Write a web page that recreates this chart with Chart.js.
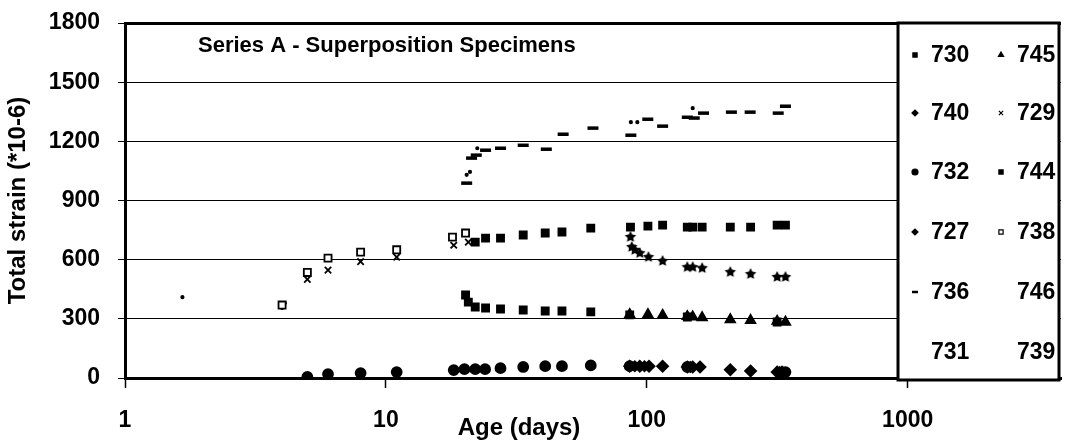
<!DOCTYPE html>
<html>
<head>
<meta charset="utf-8">
<script src="https://cdn.jsdelivr.net/npm/chart.js@4/dist/chart.umd.min.js"></script>
<style>
  html, body { margin: 0; padding: 0; background: #fff; }
  #wrap { width: 1070px; height: 444px; }
</style>
</head>
<body>
<div id="wrap"><canvas id="strainChart"></canvas></div>
<script>
// ---- data ----
const xTicks = [1, 10, 100, 1000];
const yTicks = [0, 300, 600, 900, 1200, 1500, 1800];
const chartTitle = 'Series A - Superposition Specimens';

const seriesNames = ['730', '745', '740', '729', '732', '744', '727', '738', '736', '746', '731', '739'];

const ages730 = [22.0, 24.1, 27.5, 33.6, 40.8, 47.3, 61, 86.6, 101, 115, 143, 150, 163, 209, 250, 316, 340];
const strain730 = [689, 709, 709, 725, 735, 740, 760, 765, 770, 775, 765, 765, 765, 765, 765, 775, 775];

const ages745 = [86, 101, 115, 143, 150, 163, 209, 250, 316, 340];
const strain745 = [322, 322, 318, 312, 310, 306, 296, 292, 288, 284];

const ages740 = [86, 94, 102, 115, 143, 150, 160, 209, 250, 316, 330];
const strain740 = [60, 60, 60, 60, 56, 56, 56, 42, 36, 30, 30];

const ages729 = [5.0, 6.0, 8.0, 11.0, 18.2, 20.7];
const strain729 = [500, 547, 590, 613, 673, 689];

const ages732 = [5.0, 6.0, 8.0, 11.0, 18.2, 20.0, 22.0, 24.0, 27.5, 33.6, 40.8, 47.3, 61, 86, 143, 340];
const strain732 = [5, 20, 25, 30, 40, 45, 45, 45, 50, 56, 60, 60, 64, 60, 56, 30];

const ages744 = [20.2, 20.7, 22.0, 24.1, 27.5, 33.6, 40.8, 47.3, 61, 86, 143, 316];
const strain744 = [421, 385, 360, 355, 350, 345, 340, 340, 335, 320, 309, 284];

const ages727 = [90, 98, 147, 323];
const strain727 = [60, 60, 56, 30];

const ages738 = [4.0, 5.0, 6.0, 8.0, 11.0, 18.0, 20.2];
const strain738 = [370, 535, 608, 638, 650, 714, 735];

const ages736 = [20.4, 21.3, 22.2, 24.1, 27.5, 33.6, 41.2, 47.8, 62.2, 86.9, 100.9, 115, 143, 152, 165, 211, 249, 319, 340];
const strain736 = [988, 1115, 1130, 1155, 1165, 1180, 1160, 1236, 1267, 1231, 1312, 1277, 1322, 1318, 1343, 1348, 1348, 1343, 1378];

const ages746 = [86.6, 87.6, 90, 94, 101.5, 115, 143, 150, 163, 209, 250, 316, 340];
const strain746 = [715, 664, 649, 633, 613, 593, 562, 562, 557, 537, 527, 512, 512];

const ages731 = [1.66, 4.0, 20.4, 22.4, 86.9, 92];
const strain731 = [410, 355, 1030, 1165, 1297, 1297];

const ages739 = [4.1, 21.0, 150];
const strain739 = [380, 1045, 1368];

// ---- styles ----
const FONT = '"Liberation Sans", Arial, sans-serif';

const makeStar = (r) => {
  const c = document.createElement('canvas');
  c.width = c.height = r * 2 + 2;
  const g = c.getContext('2d');
  g.fillStyle = '#000';
  g.beginPath();
  for (let i = 0; i < 10; i++) {
    const rad = i % 2 === 0 ? r : r * 0.5;
    const a = -Math.PI / 2 + i * Math.PI / 5;
    const px = r + 1 + rad * Math.cos(a), py = r + 1 + rad * Math.sin(a);
    i === 0 ? g.moveTo(px, py) : g.lineTo(px, py);
  }
  g.closePath();
  g.fill();
  return c;
};
const starImg = makeStar(6);

const markerStyles = {
  '730': { pointStyle: 'rect', radius: 5, fill: '#000', legend: true },
  '745': { pointStyle: 'triangle', radius: 5.5, fill: '#000', legend: true },
  '740': { pointStyle: 'rectRot', radius: 5.5, fill: '#000', legend: true },
  '729': { pointStyle: 'crossRot', radius: 4.5, fill: '#000', legend: true },
  '732': { pointStyle: 'circle', radius: 5, fill: '#000', legend: true },
  '744': { pointStyle: 'rect', radius: 5, fill: '#000', legend: true },
  '727': { pointStyle: 'rectRot', radius: 5, fill: '#000', legend: true },
  '738': { pointStyle: 'rect', radius: 5, fill: '#fff', legend: true },
  '736': { pointStyle: 'line', radius: 5.5, fill: '#000', legend: true },
  '746': { pointStyle: starImg, radius: 6, fill: '#000', legend: false },
  '731': { pointStyle: 'circle', radius: 1.2, fill: '#000', legend: false },
  '739': { pointStyle: 'circle', radius: 1.2, fill: '#000', legend: false }
};

const seriesData = {
  '730': [ages730, strain730], '745': [ages745, strain745], '740': [ages740, strain740],
  '729': [ages729, strain729], '732': [ages732, strain732], '744': [ages744, strain744],
  '727': [ages727, strain727], '738': [ages738, strain738], '736': [ages736, strain736],
  '746': [ages746, strain746], '731': [ages731, strain731], '739': [ages739, strain739]
};

const datasets = seriesNames.map((name) => {
  const [ages, strains] = seriesData[name];
  const st = markerStyles[name];
  return {
    label: name,
    data: ages.map((a, i) => ({ x: a, y: strains[i] })),
    pointStyle: st.pointStyle,
    pointRadius: st.radius,
    pointBackgroundColor: st.fill,
    pointBorderColor: '#000',
    pointBorderWidth: st.pointStyle === 'line' ? 3.5 : 1.8,
    showLine: false
  };
});

// title, x-axis label and legend box drawn over the plot
const overlayPlugin = {
  id: 'overlay',
  afterDraw(chart) {
    const { ctx, chartArea } = chart;
    ctx.save();
    ctx.fillStyle = '#000';
    ctx.textBaseline = 'middle';

    ctx.font = `bold 22px ${FONT}`;
    ctx.textAlign = 'left';
    ctx.fillText(chartTitle, 198, 46);

    ctx.font = `bold 24px ${FONT}`;
    ctx.textAlign = 'center';
    ctx.fillText('Age (days)', 519, 428);

    // legend
    const lx = 898, ly = chartArea.top, lw = chartArea.right - lx - 2, lh = chartArea.bottom - chartArea.top + 2;
    ctx.fillStyle = '#fff';
    ctx.fillRect(lx, ly, lw, lh);
    ctx.strokeStyle = '#000';
    ctx.lineWidth = 3;
    ctx.strokeRect(lx, ly, lw, lh);

    const rowY = [55, 113, 172, 232, 292, 352];
    const markX = [915, 1001];
    const textX = [931, 1017];
    ctx.font = `bold 23px ${FONT}`;
    ctx.textAlign = 'left';
    seriesNames.forEach((name, i) => {
      const r = Math.floor(i / 2), c = i % 2;
      const st = markerStyles[name];
      if (st.legend) {
        ctx.fillStyle = st.fill;
        ctx.strokeStyle = '#000';
        ctx.lineWidth = st.pointStyle === 'line' ? 2.5 : 1.2;
        Chart.helpers.drawPoint(ctx, { pointStyle: st.pointStyle, radius: 3, rotation: 0, borderWidth: ctx.lineWidth }, markX[c], rowY[r]);
      }
      ctx.fillStyle = '#000';
      ctx.fillText(name, textX[c], rowY[r] + 1);
    });
    ctx.restore();
  }
};

const tickFont = { family: FONT, weight: 'bold', size: 23 };

new Chart(document.getElementById('strainChart').getContext('2d'), {
  type: 'scatter',
  data: { datasets },
  options: {
    responsive: true,
    maintainAspectRatio: false,
    animation: false,
    layout: { padding: { top: 23, right: 5, left: 0, bottom: 0 } },
    plugins: {
      legend: { display: false },
      tooltip: { enabled: false }
    },
    scales: {
      x: {
        type: 'logarithmic',
        min: 1,
        max: 3870,
        afterBuildTicks: (s) => { s.ticks = xTicks.map((v) => ({ value: v })); },
        afterFit: (s) => { s.height = 66; s.paddingLeft = 0; s.paddingRight = 0; },
        ticks: { font: tickFont, color: '#000', padding: 19, autoSkip: false, maxRotation: 0, callback: (v) => String(v) },
        grid: { drawOnChartArea: false, drawTicks: true, tickLength: 10, tickColor: '#000', tickWidth: 1.5 },
        border: { display: true, color: '#000', width: 3 }
      },
      y: {
        min: 0,
        max: 1800,
        afterBuildTicks: (s) => { s.ticks = yTicks.map((v) => ({ value: v })); },
        afterFit: (s) => { s.width = 125; s.paddingTop = 0; s.paddingBottom = 0; },
        ticks: { font: tickFont, color: '#000', padding: 18, callback: (v) => String(v) },
        grid: {
          color: '#000',
          lineWidth: (c) => (c.tick && c.tick.value === 1800 ? 3 : 1),
          tickLength: 7,
          tickColor: '#000',
          tickWidth: 1
        },
        border: { display: true, color: '#000', width: 3 },
        title: { display: true, text: 'Total strain (*10-6)', color: '#000', font: { family: FONT, weight: 'bold', size: 24 }, padding: { top: 4, bottom: 0 } }
      }
    }
  },
  plugins: [overlayPlugin]
});
</script>
</body>
</html>
